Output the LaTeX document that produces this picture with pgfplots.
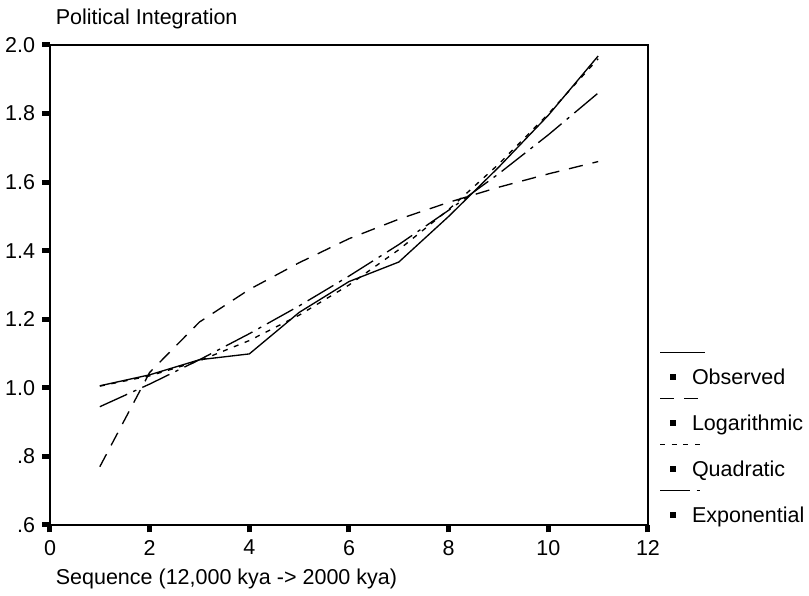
\documentclass[border=0pt]{standalone}
\usepackage{pgfplots}
\pgfplotsset{compat=1.18}
\usepackage{fontspec}
\setmainfont{Liberation Sans}
\begin{document}
\fontsize{12.9}{15}\selectfont
\begin{tikzpicture}
\begin{axis}[
  scale only axis, width=358.8pt, height=288pt,
  xmin=0, xmax=12, ymin=0.6, ymax=2.0,
  xtick={0,2,4,6,8,10,12},
  xticklabels={0,2,4,6,8,10,12},
  ytick={0.6,0.8,1.0,1.2,1.4,1.6,1.8,2.0},
  yticklabels={.6,.8,1.0,1.2,1.4,1.6,1.8,2.0},
  tick pos=left, tick align=outside,
  major tick length=4.5pt,
  every tick/.style={black, line width=3pt},
  axis line style={line width=0.9pt},
  /pgf/number format/assume math mode=true,
  xlabel={Sequence (12,000 kya -> 2000 kya)},
  ylabel={Political Integration},
  every axis x label/.style={at={(axis description cs:0,0)}, anchor=base west, yshift=-36pt, xshift=-1pt},
  every axis y label/.style={at={(axis description cs:0,1)}, anchor=base west, yshift=12pt, xshift=-1pt},
  legend style={at={(axis description cs:1.0368,0.325)}, anchor=north west, draw=none, fill=none,
    inner sep=0pt, outer sep=0pt, row sep=18.3pt,
    nodes={inner sep=0pt, text height=9.3pt, text depth=0pt}},
  legend cell align=left,
  legend image code/.code={
    \draw[#1, overlay] (-6pt,14.4pt) -- (21pt,14.4pt);
    \fill[black, draw=none] (0pt,-1.8pt) rectangle (3.6pt,1.8pt);
    \path[draw=none, fill=none] (0pt,0pt) rectangle (13.2pt,0pt);
  },
]
\addplot[black, line width=0.8pt] coordinates {
(1,1.006)(2,1.038)(3,1.082)(4,1.099)(5,1.22)(6,1.31)(7,1.367)(8,1.50)(9,1.643)(10,1.795)(11,1.968)};
\addlegendentry{Observed}
\addplot[black, line width=0.8pt, dash pattern=on 8.5pt off 6pt] coordinates {
(1,0.770)(2,1.045)(3,1.192)(4,1.287)(5,1.365)(6,1.435)(7,1.492)(8,1.541)(9,1.585)(10,1.624)(11,1.660)};
\addlegendentry{Logarithmic}
\addplot[black, line width=0.8pt, dash pattern=on 3pt off 4pt] coordinates {
(1,1.005)(2,1.035)(3,1.079)(4,1.138)(5,1.212)(6,1.300)(7,1.403)(8,1.520)(9,1.652)(10,1.799)(11,1.960)};
\addlegendentry{Quadratic}
\addplot[black, line width=0.8pt, dash pattern=on 18pt off 4pt on 2pt off 4pt] coordinates {
(1,0.945)(2,1.011)(3,1.082)(4,1.158)(5,1.239)(6,1.326)(7,1.418)(8,1.518)(9,1.624)(10,1.738)(11,1.860)};
\addlegendentry{Exponential}
\end{axis}
\pgfresetboundingbox
\path (-30pt,-42.6pt) rectangle (455.4pt,315pt);
\end{tikzpicture}
\end{document}
